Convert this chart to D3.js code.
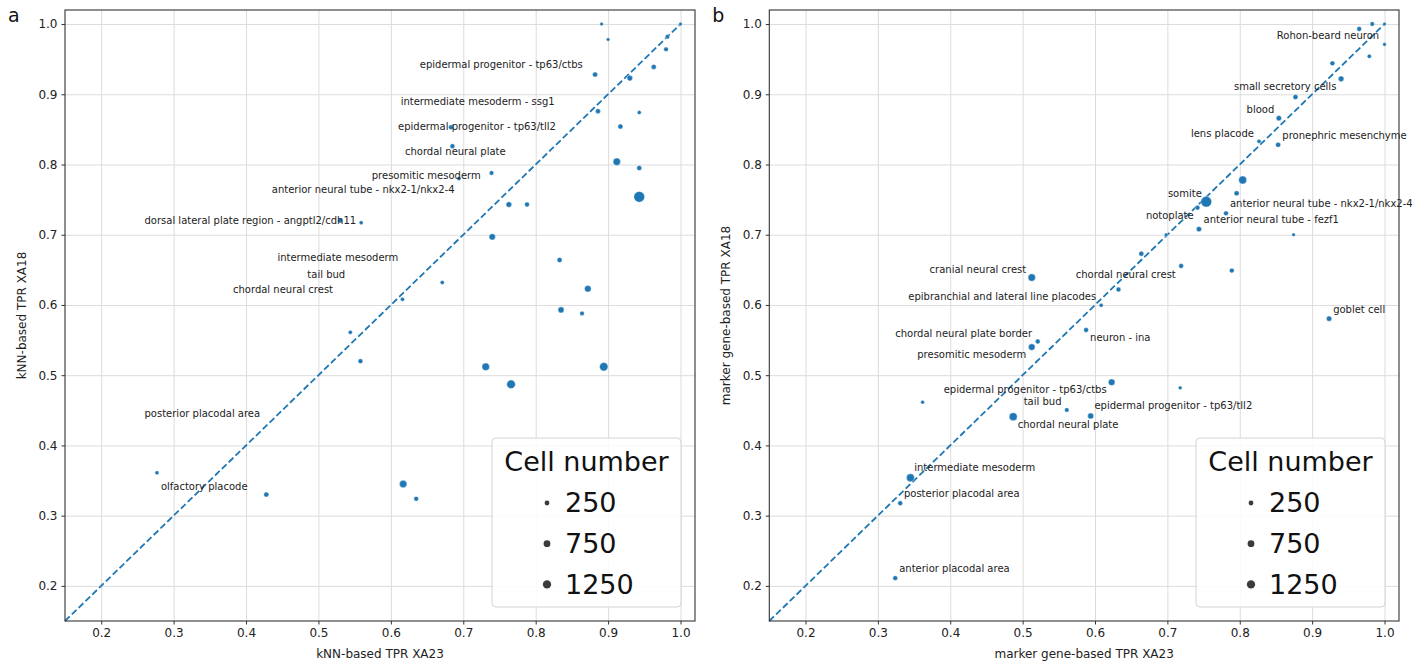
<!DOCTYPE html>
<html>
<head>
<meta charset="utf-8">
<script src="https://cdn.jsdelivr.net/npm/d3@7"></script>
<style>
  body { margin: 0; background: #fff; }
  svg text { font-family: "DejaVu Sans", sans-serif; }
</style>
</head>
<body>
<div id="chart"></div>
<script>
// panel a : kNN-based TPR
var aX = [0.891, 0.900, 1.000, 0.982, 0.980, 0.963, 0.882, 0.930, 0.886, 0.943, 0.917, 0.683, 0.685,
          0.912, 0.943, 0.739, 0.694, 0.763, 0.788, 0.943, 0.740, 0.833, 0.671, 0.616, 0.872, 0.835,
          0.864, 0.731, 0.894, 0.766, 0.530, 0.559, 0.544, 0.558, 0.277, 0.428, 0.617, 0.635];
var aY = [1.000, 0.978, 1.000, 0.982, 0.964, 0.939, 0.928, 0.923, 0.876, 0.874, 0.854, 0.853, 0.826,
          0.804, 0.795, 0.788, 0.780, 0.743, 0.743, 0.754, 0.697, 0.664, 0.632, 0.608, 0.623, 0.593,
          0.588, 0.512, 0.512, 0.487, 0.720, 0.717, 0.561, 0.520, 0.361, 0.330, 0.345, 0.324];
var aCells = [20, 15, 10, 160, 200, 290, 290, 430, 290, 90, 290, 250, 250,
              950, 290, 200, 120, 430, 250, 2300, 640, 290, 120, 100, 700, 550,
              180, 1010, 1300, 1370, 250, 100, 100, 250, 100, 290, 950, 250];

var aLabels = ["epidermal progenitor - tp63/ctbs", "intermediate mesoderm - ssg1",
               "epidermal progenitor - tp63/tll2", "chordal neural plate", "presomitic mesoderm",
               "anterior neural tube - nkx2-1/nkx2-4", "dorsal lateral plate region - angptl2/cdh11",
               "intermediate mesoderm", "tail bud", "chordal neural crest",
               "posterior placodal area", "olfactory placode"];
var aLabelX = [0.640, 0.6135, 0.610, 0.6195, 0.5736, 0.4356, 0.2598, 0.4433, 0.4847, 0.382, 0.2598, 0.2824];
var aLabelY = [0.943, 0.890, 0.854, 0.819, 0.784, 0.765, 0.7196, 0.667, 0.643, 0.622, 0.445, 0.341];

// panel b : marker gene-based TPR
var bX = [0.965, 0.983, 1.000, 1.000, 0.979, 0.928, 0.940, 0.877, 0.854, 0.8266, 0.853, 0.804, 0.7956,
          0.7537, 0.7416, 0.781, 0.7436, 0.8744, 0.6983, 0.664, 0.719, 0.789, 0.6324, 0.6085, 0.5877,
          0.9234, 0.623, 0.7177, 0.594, 0.5126, 0.5209, 0.5126, 0.3618, 0.561, 0.487, 0.345, 0.3309, 0.324];
var bY = [0.993, 1.000, 1.000, 0.971, 0.954, 0.944, 0.922, 0.896, 0.866, 0.833, 0.828, 0.778, 0.759,
          0.747, 0.7385, 0.7305, 0.708, 0.700, 0.700, 0.673, 0.6555, 0.649, 0.622, 0.5996, 0.5644,
          0.5805, 0.490, 0.482, 0.442, 0.639, 0.548, 0.540, 0.4615, 0.4505, 0.441, 0.354, 0.3177, 0.211];
var bCells = [250, 180, 10, 30, 120, 250, 430, 290, 350, 120, 290, 1150, 290,
              2300, 250, 250, 350, 20, 40, 290, 250, 250, 250, 100, 250,
              350, 700, 50, 550, 950, 250, 700, 50, 180, 1150, 1150, 250, 250];

var bLabels = ["Rohon-beard neuron", "small secretory cells", "blood", "lens placode",
               "pronephric mesenchyme", "somite", "anterior neural tube - nkx2-1/nkx2-4", "notoplate",
               "anterior neural tube - fezf1", "chordal neural crest", "neuron - ina", "goblet cell",
               "epidermal progenitor - tp63/tll2", "cranial neural crest",
               "epibranchial and lateral line placodes", "chordal neural plate border",
               "presomitic mesoderm", "epidermal progenitor - tp63/ctbs", "tail bud",
               "chordal neural plate", "intermediate mesoderm", "posterior placodal area",
               "anterior placodal area"];
var bLabelX = [0.8512, 0.792, 0.8094, 0.7325, 0.8588, 0.7007, 0.7864, 0.6703, 0.750, 0.5734, 0.5932,
               0.929, 0.5992, 0.3715, 0.342, 0.324, 0.3544, 0.3909, 0.5015, 0.4932, 0.3502, 0.336, 0.3295];
var bLabelY = [0.983, 0.911, 0.8786, 0.8444, 0.8416, 0.7585, 0.7448, 0.7271, 0.721, 0.644, 0.5535,
               0.594, 0.4562, 0.6508, 0.6114, 0.5597, 0.5288, 0.479, 0.4623, 0.4292, 0.3684, 0.332, 0.2242];

var ticks = [0.2, 0.3, 0.4, 0.5, 0.6, 0.7, 0.8, 0.9, 1.0];
var legendSizes = [250, 750, 1250];
var legendTitle = "Cell number";

var W = 1424, H = 666;
var blue = "#1f77b4";

var svg = d3.select("#chart").append("svg")
    .attr("width", W).attr("height", H)
    .style("background", "#fff");

// marker area grows linearly with cell number
var area = d3.scaleLinear().domain([0, 1250]).range([3, 3 + 0.0113 * 1250]);
function rad(n) { return Math.sqrt(area(n)); }

var panels = [
  { letter: "a", left: 65, top: 10, right: 695, bottom: 621,
    xs: aX, ys: aY, cells: aCells, labels: aLabels, lx: aLabelX, ly: aLabelY,
    xTitle: "kNN-based TPR XA23", yTitle: "kNN-based TPR XA18" },
  { letter: "b", left: 769.3, top: 10, right: 1399, bottom: 621,
    xs: bX, ys: bY, cells: bCells, labels: bLabels, lx: bLabelX, ly: bLabelY,
    xTitle: "marker gene-based TPR XA23", yTitle: "marker gene-based TPR XA18" }
];

panels.forEach(function(p) {
  var x = d3.scaleLinear().domain([0.15, 1.02]).range([p.left, p.right]);
  var y = d3.scaleLinear().domain([0.15, 1.02]).range([p.bottom, p.top]);
  var g = svg.append("g");

  // grid
  g.append("g").call(d3.axisBottom(x).tickValues(ticks).tickSize(-(p.bottom - p.top)).tickFormat(""))
    .attr("transform", "translate(0," + p.bottom + ")")
    .call(s => s.select(".domain").remove())
    .selectAll("line").attr("stroke", "#dcdcdc").attr("stroke-width", 1);
  g.append("g").call(d3.axisLeft(y).tickValues(ticks).tickSize(-(p.right - p.left)).tickFormat(""))
    .attr("transform", "translate(" + p.left + ",0)")
    .call(s => s.select(".domain").remove())
    .selectAll("line").attr("stroke", "#dcdcdc").attr("stroke-width", 1);

  // diagonal
  g.append("line")
    .attr("x1", x(0.15)).attr("y1", y(0.15))
    .attr("x2", x(1.0)).attr("y2", y(1.0))
    .attr("stroke", blue).attr("stroke-width", 1.8)
    .attr("stroke-dasharray", "6.5,3");

  // points
  var idx = d3.range(p.xs.length);
  g.selectAll("circle.pt").data(idx).enter().append("circle")
    .attr("class", "pt")
    .attr("cx", i => x(p.xs[i]))
    .attr("cy", i => y(p.ys[i]))
    .attr("r", i => rad(p.cells[i]))
    .attr("fill", blue)
    .attr("stroke", "#fff").attr("stroke-width", 0.4);

  // labels
  g.selectAll("text.lab").data(d3.range(p.labels.length)).enter().append("text")
    .attr("class", "lab")
    .attr("x", i => x(p.lx[i]))
    .attr("y", i => y(p.ly[i]))
    .attr("dy", "0.35em")
    .attr("font-size", 10)
    .attr("fill", "#222")
    .text(i => p.labels[i]);

  // axes
  var xa = g.append("g").attr("transform", "translate(0," + p.bottom + ")")
    .call(d3.axisBottom(x).tickValues(ticks).tickSize(3.5).tickPadding(4).tickFormat(d3.format(".1f")));
  var ya = g.append("g").attr("transform", "translate(" + p.left + ",0)")
    .call(d3.axisLeft(y).tickValues(ticks).tickSize(3.5).tickPadding(4).tickFormat(d3.format(".1f")));
  [xa, ya].forEach(function(a) {
    a.select(".domain").remove();
    a.selectAll("line").attr("stroke", "#333");
    a.selectAll("text").attr("font-size", 12).attr("fill", "#222")
      .attr("font-family", "DejaVu Sans, sans-serif");
  });

  // frame
  g.append("rect")
    .attr("x", p.left).attr("y", p.top)
    .attr("width", p.right - p.left).attr("height", p.bottom - p.top)
    .attr("fill", "none").attr("stroke", "#333").attr("stroke-width", 1.1);

  // axis titles
  g.append("text")
    .attr("x", (p.left + p.right) / 2).attr("y", 658)
    .attr("text-anchor", "middle").attr("font-size", 12).attr("fill", "#222")
    .text(p.xTitle);
  g.append("text")
    .attr("transform", "translate(" + (p.left - 39) + "," + ((p.top + p.bottom) / 2) + ") rotate(-90)")
    .attr("text-anchor", "middle").attr("font-size", 12).attr("fill", "#222")
    .text(p.yTitle);

  // panel letter
  g.append("text")
    .attr("x", p.left - 57).attr("y", 22)
    .attr("font-size", 19).attr("fill", "#111")
    .text(p.letter);

  // legend
  var lw = 189, lh = 169;
  var lg = g.append("g").attr("transform", "translate(" + (p.right - 14 - lw) + "," + (p.bottom - 14 - lh) + ")");
  lg.append("rect").attr("width", lw).attr("height", lh).attr("rx", 4)
    .attr("fill", "#fff").attr("fill-opacity", 0.85)
    .attr("stroke", "#d4d4d4").attr("stroke-width", 1);
  lg.append("text").attr("x", lw / 2).attr("y", 24).attr("dy", "0.35em")
    .attr("text-anchor", "middle").attr("font-size", 27).attr("fill", "#111")
    .text(legendTitle);
  legendSizes.forEach(function(s, k) {
    var yy = 65 + k * 40.7;
    lg.append("circle").attr("cx", 55).attr("cy", yy).attr("r", rad(s)).attr("fill", "#3b3b3b");
    lg.append("text").attr("x", 73).attr("y", yy).attr("dy", "0.35em")
      .attr("font-size", 27).attr("fill", "#111").text(s);
  });
});
</script>
</body>
</html>
